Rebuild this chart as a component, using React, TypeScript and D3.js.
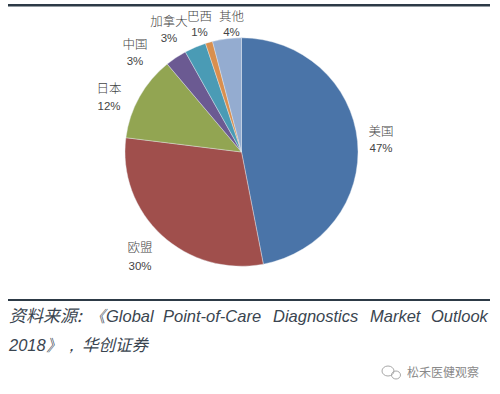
import React from 'react';
import * as d3 from 'd3';

const categories = ['美国', '欧盟', '日本', '中国', '加拿大', '巴西', '其他'];
const values = [47, 30, 12, 3, 3, 1, 4];
const colors = ['#4a74a8', '#a04f4c', '#92a552', '#6b5a92', '#4a9bb5', '#d98f4e', '#94acd0'];
const labelPos: [number, number, number][] = [[381, 136, 152], [140, 252, 270], [109, 93, 110], [135, 49, 65], [169, 26, 42], [199.5, 21, 36], [231.5, 21, 36]];
const sourceLine1 = ['《Global', 'Point-of-Care', 'Diagnostics', 'Market', 'Outlook'];
const wordX = [89, 163, 273, 370, 431];

export default function App() {
  const pie = d3.pie<number>().sort(null).value((d) => d)(values);
  const arc = d3.arc<d3.PieArcDatum<number>>().innerRadius(0).outerRadius(116.5);
  return (
    <svg width={500} height={394} style={{ position: 'absolute', left: 0, top: 0, background: '#fff' }}>
      <rect x={0} y={0} width={500} height={394} fill="#fff" />
      <rect x={8} y={4} width={482} height={2.5} fill="#2d3a46" />
      <g transform="translate(241.5,152) scale(1,0.98)">
        {pie.map((p, i) => (
          <path key={categories[i]} d={arc(p) ?? ''} fill={colors[i]} stroke="#e8edf2" strokeWidth={0.4} />
        ))}
      </g>
      <g fontFamily="'Noto Sans CJK SC'" fontSize={12.5} fontWeight={300} fill="#444" textAnchor="middle">
        {categories.map((c, i) => (
          <g key={c}>
            <text x={labelPos[i][0]} y={labelPos[i][1]}>{c}</text>
            <text x={labelPos[i][0]} y={labelPos[i][2]} fontFamily="Liberation Sans" fontSize={11.5}>{values[i]}%</text>
          </g>
        ))}
      </g>
      <rect x={8} y={299} width={482} height={2} fill="#2d3a46" />
      <g fill="#3a4550" fontSize={16.5} fontStyle="italic">
        <text x={9} y={322} fontFamily="'Noto Sans CJK SC'" fontSize={17}>资料来源:</text>
        {sourceLine1.map((w, i) => (
          <text key={w} x={wordX[i]} y={322} fontFamily="Liberation Sans">{w}</text>
        ))}
        <text x={9} y={351} fontFamily="Liberation Sans">2018》，</text>
        <text x={82} y={351} fontFamily="'Noto Sans CJK SC'">华创证券</text>
      </g>
      <text x={407} y={377} fontFamily="'Noto Sans CJK SC'" fontSize={12} fill="#8a8a8a">松禾医健观察</text>
      <g fill="none" stroke="#a8a8a8" strokeWidth={1}>
        <ellipse cx={388} cy={371} rx={6} ry={5} />
        <ellipse cx={396} cy={375} rx={4.5} ry={4} />
      </g>
    </svg>
  );
}
